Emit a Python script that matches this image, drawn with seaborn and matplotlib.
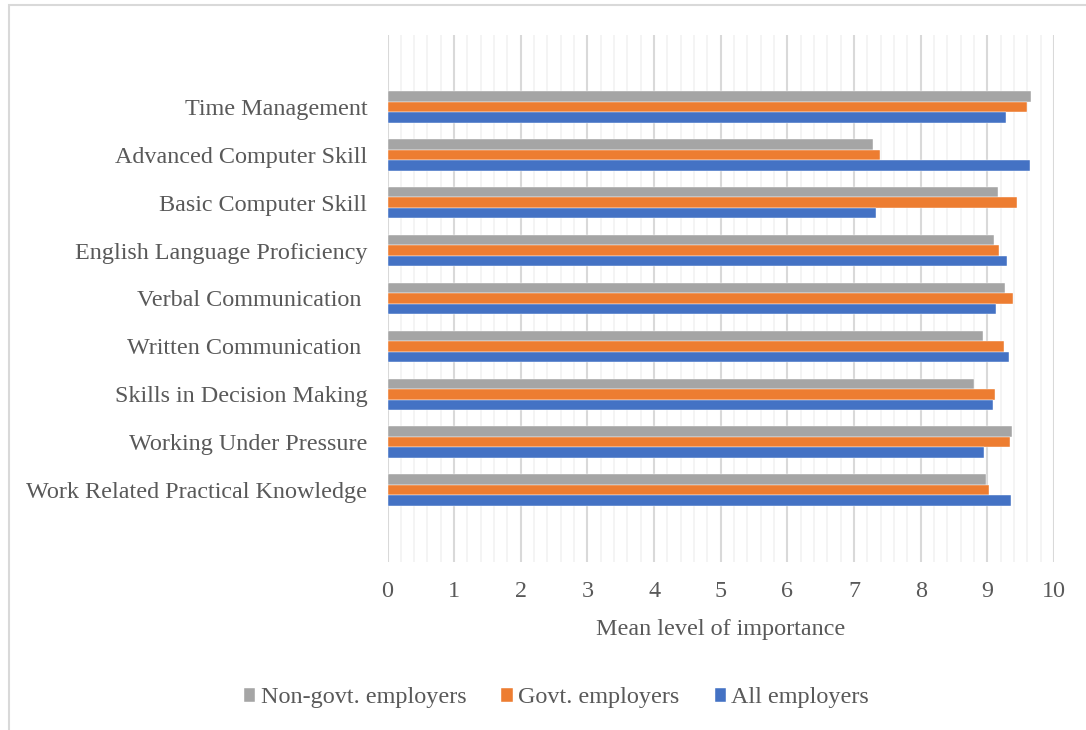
import matplotlib
matplotlib.use("Agg")
import matplotlib.pyplot as plt
from matplotlib.patches import Rectangle
from matplotlib.ticker import MultipleLocator
import pandas as pd
import seaborn as sns

skills = [
    "Time Management",
    "Advanced Computer Skill",
    "Basic Computer Skill",
    "English Language Proficiency",
    "Verbal Communication ",
    "Written Communication ",
    "Skills in Decision Making",
    "Working Under Pressure",
    "Work Related Practical Knowledge",
]
groups = ["Non-govt. employers", "Govt. employers", "All employers"]
non_govt = [9.65, 7.28, 9.16, 9.10, 9.27, 8.94, 8.80, 9.37, 8.98]
govt = [9.60, 7.39, 9.44, 9.17, 9.38, 9.25, 9.11, 9.34, 9.03]
all_emp = [9.28, 9.64, 7.33, 9.30, 9.13, 9.32, 9.09, 8.95, 9.35]
colors = ["#A5A5A5", "#ED7D31", "#4472C4"]

df = pd.DataFrame({
    "skill": skills * 3,
    "group": [g for g in groups for _ in skills],
    "value": non_govt + govt + all_emp,
})

sns.set_theme(style="white")
plt.rcParams["font.family"] = ["Liberation Serif", "DejaVu Serif"]
text_color = "#595959"
fs = 17.4

fig = plt.figure(figsize=(10.86, 7.30), dpi=100)
ax = fig.add_axes([387.5 / 1086, 1 - 562 / 730, (1054 - 387.5) / 1086, (562 - 35) / 730])

sns.barplot(data=df, x="value", y="skill", hue="group", order=skills,
            hue_order=groups, palette=colors, orient="h", width=0.66,
            saturation=1, errorbar=None, ax=ax, zorder=3)
for p in ax.patches:
    p.set_edgecolor("white")
    p.set_linewidth(0.3)

ax.set_xlim(0, 10)
ax.set_ylim(9.5, -1.5)
ax.xaxis.set_major_locator(MultipleLocator(1))
ax.xaxis.set_minor_locator(MultipleLocator(0.2))
ax.grid(True, which="major", axis="x", color="#D9D9D9", linewidth=1.5, zorder=1)
ax.grid(True, which="minor", axis="x", color="#F2F2F2", linewidth=1.2, zorder=0)
ax.grid(False, axis="y")
ax.set_axisbelow(True)
for s in ax.spines.values():
    s.set_visible(False)
ax.tick_params(axis="both", which="both", length=0, labelsize=fs, colors=text_color)
ax.tick_params(axis="y", pad=14.5)
ax.tick_params(axis="x", pad=14)
ax.set_ylabel("")
ax.set_xlabel("Mean level of importance", fontsize=fs, color=text_color, labelpad=12)

handles, labels = ax.get_legend_handles_labels()
ax.get_legend().remove()
fig.legend(handles, labels, loc="center", bbox_to_anchor=(556.5 / 1086, 1 - 698 / 730),
           ncol=3, frameon=False, fontsize=fs, labelcolor=text_color,
           handlelength=0.48, handleheight=0.48, handletextpad=0.22, columnspacing=1.45)

# chart-area border
fig.patches.append(Rectangle((8.5 / 1086, -0.05), 1.1, 1 - 5 / 730 + 0.05,
                             transform=fig.transFigure, fill=False,
                             edgecolor="#D9D9D9", linewidth=1.5))

fig.savefig("out.png", dpi=100, facecolor="white")
